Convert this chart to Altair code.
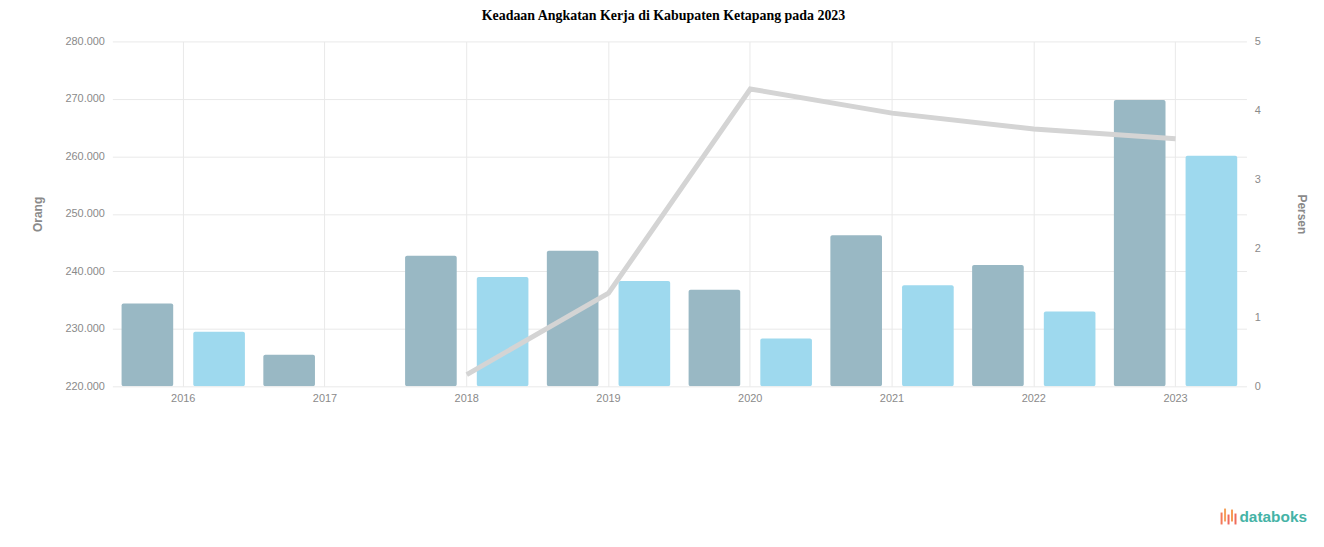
import altair as alt
import pandas as pd

years = ["2016", "2017", "2018", "2019", "2020", "2021", "2022", "2023"]
angkatan_kerja = [234400, 225500, 242700, 243600, 236800, 246300, 241100, 269800]
bekerja = [229500, None, 239000, 238300, 228300, 237600, 233000, 260100]
tpt = [None, None, 0.17, 1.35, 4.31, 3.96, 3.73, 3.59]
series = ["Angkatan Kerja", "Bekerja"]
colors = ["#99b8c4", "#9ed9ee"]

rows = []
for i, y in enumerate(years):
    rows.append({"Tahun": y, "Seri": series[0], "Nilai": angkatan_kerja[i]})
    if bekerja[i] is not None:
        rows.append({"Tahun": y, "Seri": series[1], "Nilai": bekerja[i]})
bars_df = pd.DataFrame(rows)
line_df = pd.DataFrame({"Tahun": years, "TPT": tpt}).dropna()

W, H = 1141, 347
xscale = alt.Scale(domain=years, paddingInner=0.13, paddingOuter=0.065)
xaxis = alt.Axis(title=None, grid=True, bandPosition=0.5, domain=False, ticks=False,
                 labelColor="#8a8a8a", labelFontSize=11, labelPadding=6, labelAngle=0,
                 gridColor="#e9e9e9", labelFont="Liberation Sans")

bars = alt.Chart(bars_df).mark_bar(clip=True, cornerRadius=2).encode(
    x=alt.X("Tahun:N", scale=xscale, axis=xaxis),
    xOffset=alt.XOffset("Seri:N", scale=alt.Scale(domain=series, paddingInner=0.28, paddingOuter=0)),
    y=alt.Y("Nilai:Q", stack=None, scale=alt.Scale(domain=[220000, 280000], zero=False, nice=False),
            axis=alt.Axis(title="Orang", values=list(range(220000, 280001, 10000)),
                          labelExpr="replace(format(datum.value, ','), ',', '.')",
                          domain=False, ticks=False, gridColor="#e9e9e9",
                          labelColor="#8a8a8a", labelFontSize=11, labelPadding=8,
                          titleColor="#8a8a8a", titleFontSize=12, titlePadding=21,
                          labelFont="Liberation Sans", titleFont="Liberation Sans")),
    color=alt.Color("Seri:N", scale=alt.Scale(domain=series, range=colors), legend=None),
)

line = alt.Chart(line_df).mark_line(color="#d4d4d4", strokeWidth=5).encode(
    x=alt.X("Tahun:N", scale=xscale, axis=xaxis),
    y=alt.Y("TPT:Q", scale=alt.Scale(domain=[0, 5], nice=False),
            axis=alt.Axis(title="Persen", orient="right", values=[0, 1, 2, 3, 4, 5],
                          domain=False, ticks=False, grid=False,
                          labelColor="#8a8a8a", labelFontSize=11, labelPadding=8,
                          titleColor="#8a8a8a", titleFontSize=12, titlePadding=34,
                          labelFont="Liberation Sans", titleFont="Liberation Sans")),
)

logo_text = alt.Chart(pd.DataFrame({"t": ["databoks"]})).mark_text(
    font="Liberation Sans", fontSize=15.5, fontWeight="bold", color="#45b3a6", align="left",
    baseline="middle", clip=False
).encode(text="t:N", x=alt.value(1134), y=alt.value(479))

logo_bars = []
bar_cols = ["#f47a5a", "#f5a15a", "#f06a5e", "#f59b55", "#ef6b5b"]
bar_tops = [474, 470, 476, 471, 475]
for k in range(5):
    logo_bars.append(
        alt.Chart(pd.DataFrame({"a": [0]})).mark_rule(strokeWidth=2, color=bar_cols[k]).encode(
            x=alt.value(1116 + 3.5 * k), y=alt.value(bar_tops[k]), y2=alt.value(486 - (k % 2) * 3)
        )
    )

chart = alt.layer(bars, line, logo_text, *logo_bars).resolve_scale(y="independent").properties(
    width=W, height=H,
    autosize=alt.AutoSizeParams(type="none"),
    padding={"left": 105, "top": 32, "right": 70, "bottom": 152},
    title=alt.TitleParams("Keadaan Angkatan Kerja di Kabupaten Ketapang pada 2023",
                          font="Liberation Serif", fontSize=14, fontWeight="bold",
                          color="#000000", anchor="middle", offset=13, dx=-16),
).configure_view(stroke=None)

chart.save("out.html", embed_options={"renderer": "svg", "actions": False})
